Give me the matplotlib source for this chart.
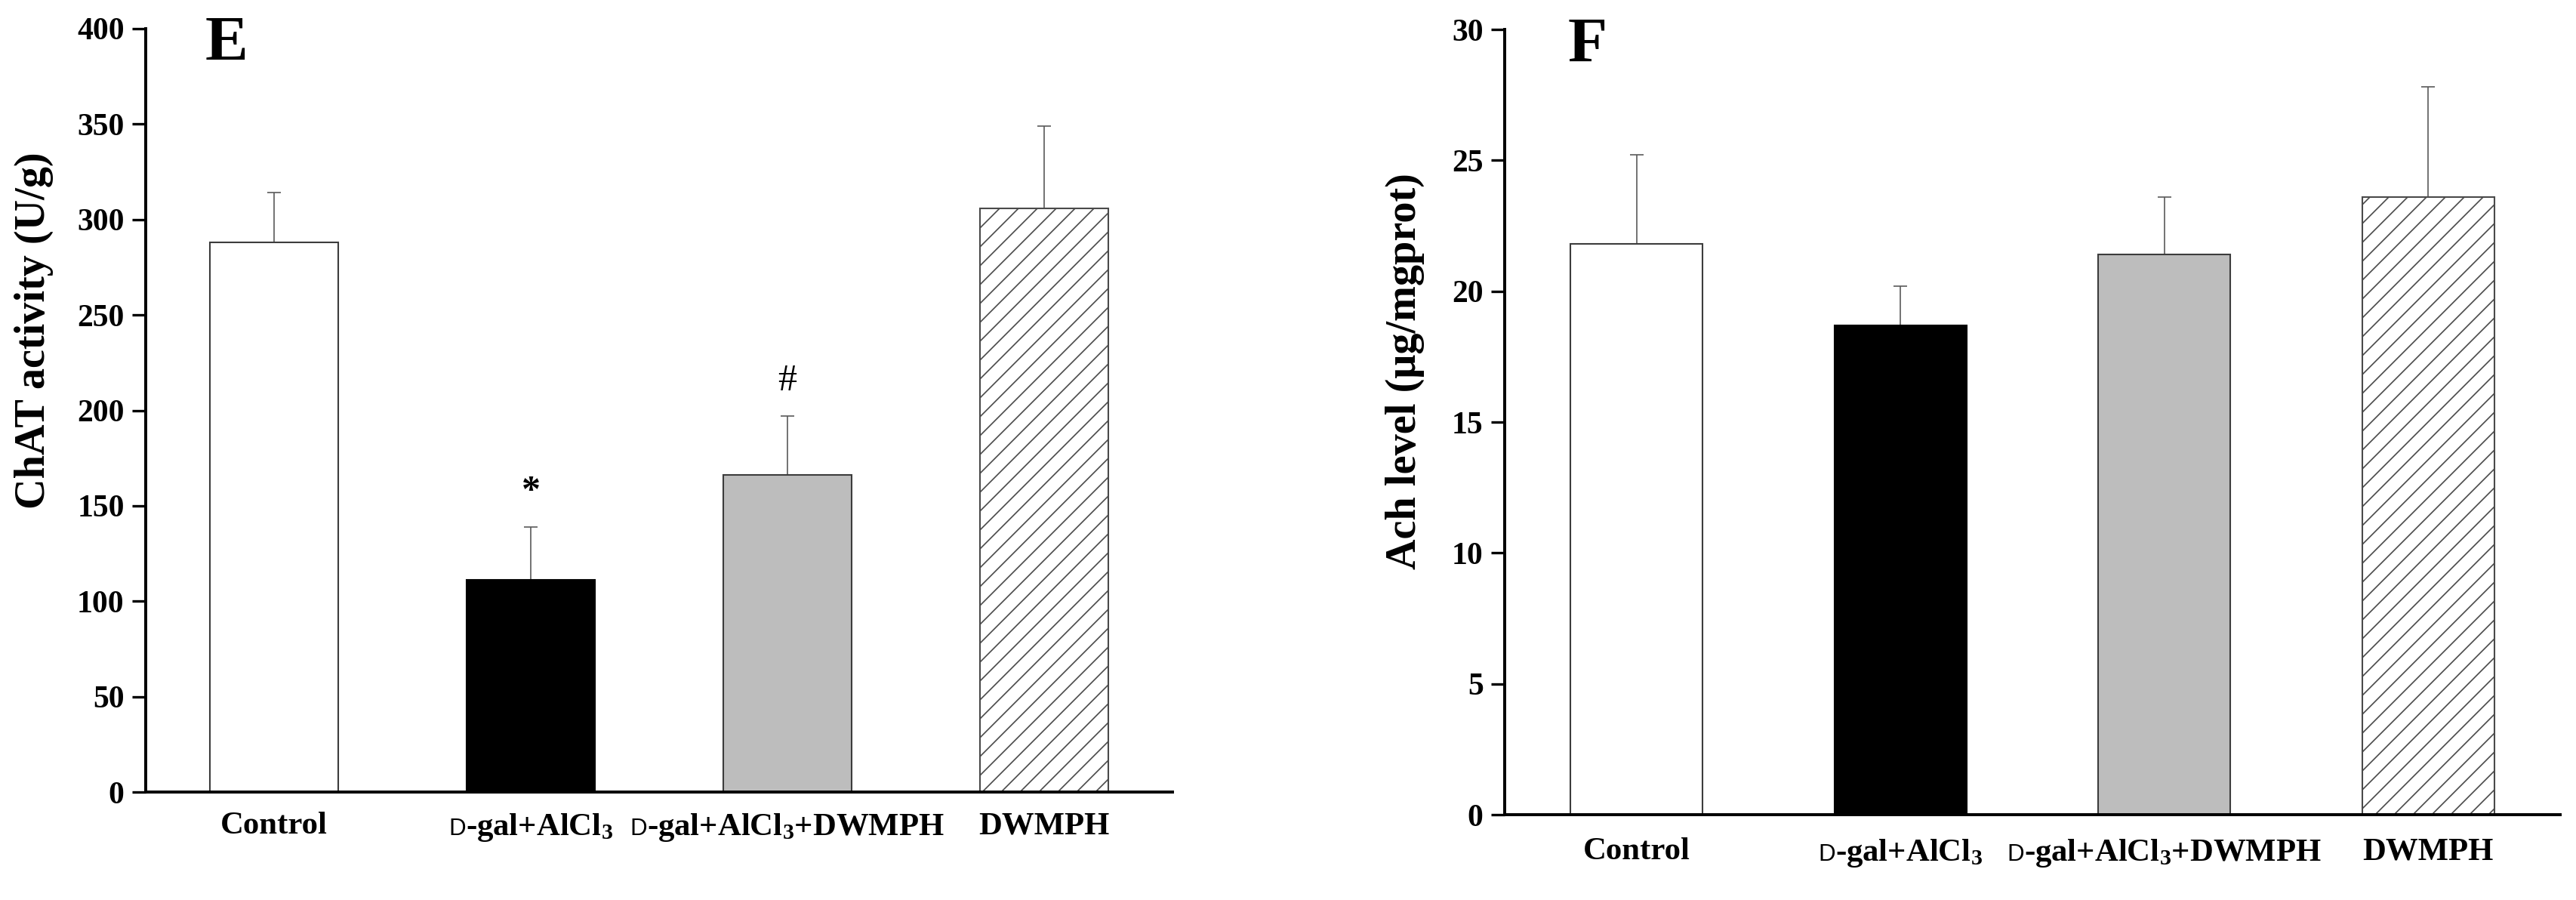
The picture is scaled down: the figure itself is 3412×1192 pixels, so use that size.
import matplotlib
matplotlib.use("Agg")
import matplotlib.pyplot as plt
from matplotlib.offsetbox import TextArea, HPacker, AnnotationBbox
import numpy as np

# ---------------- data ----------------
categories = ["Control", "D-gal+AlCl3", "D-gal+AlCl3+DWMPH", "DWMPH"]

chat_values = [288, 111, 166, 306]
chat_errors = [26, 28, 31, 43]
chat_marks = ["", "*", "#", ""]
chat_ticks = [0, 50, 100, 150, 200, 250, 300, 350, 400]

ach_values = [21.8, 18.7, 21.4, 23.6]
ach_errors = [3.4, 1.5, 2.2, 4.2]
ach_marks = ["", "", "", ""]
ach_ticks = [0, 5, 10, 15, 20, 25, 30]

# ---------------- style ----------------
SERIF = "Liberation Serif"
plt.rcParams["font.family"] = [SERIF, "DejaVu Serif"]
plt.rcParams["font.weight"] = "bold"
plt.rcParams["mathtext.fontset"] = "custom"
plt.rcParams["mathtext.rm"] = "Liberation Serif:bold"
plt.rcParams["mathtext.it"] = "Liberation Serif:italic:bold"
plt.rcParams["mathtext.bf"] = "Liberation Serif:bold"
plt.rcParams["mathtext.default"] = "rm"
plt.rcParams["hatch.linewidth"] = 0.8

fill_colors = ["white", "black", "#bdbdbd", "white"]
hatches = [None, None, None, "//"]
edge_colors = ["#3c3c3c", "black", "#3c3c3c", "#4a4a4a"]

W, H, DPI = 3412, 1192, 150
fig = plt.figure(figsize=(W / DPI, H / DPI), dpi=DPI)
fig.patch.set_facecolor("white")

def px_axes(x0, x1, ytop, ybot):
    return fig.add_axes([x0 / W, 1 - ybot / H, (x1 - x0) / W, (ybot - ytop) / H])

axE = px_axes(193, 1553, 38, 1049)
axF = px_axes(1993, 3391, 39, 1079)

CAT_SIZE = 20.5

def make_label(text):
    children = []
    if text.startswith("D-"):
        children.append(TextArea("D", textprops=dict(family="Liberation Sans",
                                                       fontsize=15, weight="normal",
                                                       color="black")))
        rest = text[1:]
    else:
        rest = text
    rest = rest.replace("AlCl3", "AlCl$_3$")
    children.append(TextArea(rest, textprops=dict(family=SERIF, fontsize=CAT_SIZE,
                                                  weight="bold", color="black")))
    return HPacker(children=children, align="baseline", pad=0, sep=0)

def draw_panel(ax, values, errors, marks, ticks, ylabel, letter, label_pad,
               ylabel_xy, letter_xy):
    x = np.arange(len(categories))
    ax.errorbar(x, values, yerr=[np.zeros(len(errors)), errors], fmt="none",
                ecolor="#5a5a5a", elinewidth=0.8, capsize=4.5, capthick=0.8,
                zorder=1)
    for i in range(len(categories)):
        ax.bar(x[i], values[i], width=0.5, color=fill_colors[i],
               edgecolor=edge_colors[i], linewidth=1.0, hatch=hatches[i],
               zorder=2)
    for i, m in enumerate(marks):
        if m:
            ax.annotate(m, xy=(x[i], values[i] + errors[i]), xytext=(0, 22),
                        textcoords="offset points", ha="center", va="center",
                        fontsize=24, weight="bold" if m == "*" else "normal",
                        family=SERIF)
    ax.set_xlim(-0.5, 3.5)
    ax.set_ylim(ticks[0], ticks[-1])
    ax.set_yticks(ticks)
    ax.set_yticklabels([str(t) for t in ticks])
    ax.set_xticks([])
    for s in ["top", "right"]:
        ax.spines[s].set_visible(False)
    ax.spines["left"].set_linewidth(1.9)
    ax.spines["bottom"].set_linewidth(1.9)
    ax.tick_params(axis="y", direction="out", length=8.6, width=1.6,
                   labelsize=20, pad=5)
    for lab in ax.get_yticklabels():
        lab.set_fontweight("bold")
        lab.set_family(SERIF)
    ax.set_ylabel(ylabel, fontsize=27, fontweight="bold", family=SERIF)
    ax.yaxis.set_label_coords(*ylabel_xy)
    ax.text(letter_xy[0], letter_xy[1], letter, transform=ax.transAxes,
            ha="left", va="baseline", fontsize=41, fontweight="bold", family=SERIF)
    for i, c in enumerate(categories):
        ab = AnnotationBbox(make_label(c), (x[i], 0),
                            xycoords=("data", "axes fraction"),
                            xybox=(0, -label_pad), boxcoords="offset points",
                            box_alignment=(0.5, 1.0), frameon=False, pad=0,
                            annotation_clip=False)
        ax.add_artist(ab)

draw_panel(axE, chat_values, chat_errors, chat_marks, chat_ticks,
           "ChAT activity (U/g)", "E", 12.5, (-0.090, 0.605), (0.058, 0.958))
draw_panel(axF, ach_values, ach_errors, ach_marks, ach_ticks,
           "Ach level (\u03bcg/mgprot)", "F", 14.5, (-0.076, 0.565), (0.060, 0.959))

fig.savefig("out.png", dpi=DPI, facecolor="white")
